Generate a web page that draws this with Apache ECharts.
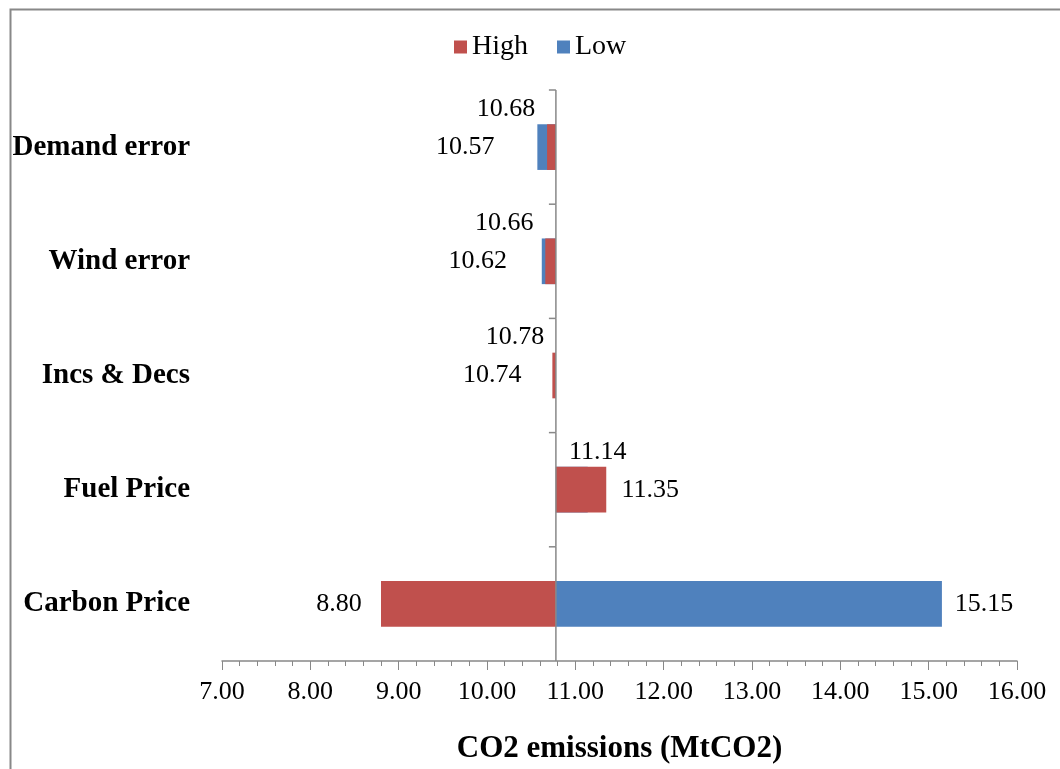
<!DOCTYPE html>
<html>
<head>
<meta charset="utf-8">
<script src="https://cdn.jsdelivr.net/npm/echarts@6/dist/echarts.min.js"></script>
<style>
html,body{margin:0;padding:0;background:#fff;overflow:hidden;}
#chart{width:1060px;height:769px;}
</style>
</head>
<body>
<div id="chart"></div>
<script>
// ---- data ----
const categories = ['Carbon Price', 'Fuel Price', 'Incs & Decs', 'Wind error', 'Demand error'];
const highValues = [8.80, 11.35, 10.74, 10.66, 10.68];
const lowValues  = [15.15, 11.14, 10.78, 10.62, 10.57];
const baseValue = 10.78;
const xTicks = { min: 7, max: 16, interval: 1 };

// ---- layout (not data) ----
const sideLabelOffset = [42, 44, 60, 64, 72];
const FONT = '"Liberation Serif","Times New Roman",serif';
const RED = '#C0504D', BLUE = '#4F81BD', AXIS = '#888888';

function barRender(values, color, otherValues) {
  return function (params, api) {
    const i = api.value(0);
    const v = values[i];
    const o = otherValues[i];
    const pBase = api.coord([baseValue, i]);
    const pEnd = api.coord([v, i]);
    const bandH = api.size([0, 1])[1];
    const h = bandH * 0.4;
    const x0 = Math.min(pBase[0], pEnd[0]);
    const w = Math.abs(pEnd[0] - pBase[0]);
    const children = [{
      type: 'rect',
      shape: { x: x0, y: pBase[1] - h / 2, width: w, height: h },
      style: { fill: color }
    }];
    const sameSide = (v - baseValue) * (o - baseValue) >= 0;
    const longer = Math.abs(v - baseValue) >= Math.abs(o - baseValue);
    const left = v < baseValue || (v === baseValue && o < baseValue);
    let tx, ty;
    if (!sameSide || longer) {
      tx = pEnd[0] + (left ? -1 : 1) * sideLabelOffset[i];
      ty = pBase[1];
    } else {
      const oLeft = o < baseValue;
      tx = pEnd[0] + (oLeft ? -41 : 10);
      ty = pBase[1] - 38;
    }
    children.push({
      type: 'text',
      style: {
        text: v.toFixed(2), x: tx, y: ty, align: 'center', verticalAlign: 'middle',
        fill: '#000', font: '26px ' + FONT
      }
    });
    return { type: 'group', children: children };
  };
}

const idx = categories.map((c, i) => [i]);

const chart = echarts.init(document.getElementById('chart'), null, { renderer: 'canvas' });
chart.setOption({
  backgroundColor: '#fff',
  animation: false,
  graphic: [{
    type: 'rect', left: 8, top: 7, z: 100,
    shape: { width: 1100, height: 820 },
    style: { fill: 'none', stroke: AXIS, lineWidth: 2 }
  }],
  legend: {
    top: 28, left: 449,
    itemWidth: 13, itemHeight: 13, itemGap: 29,
    icon: 'rect',
    textStyle: { fontFamily: FONT, fontSize: 28, color: '#000' },
    data: [{ name: 'High', itemStyle: { color: RED } }, { name: 'Low', itemStyle: { color: BLUE } }]
  },
  grid: { left: 222, width: 795, top: 90, height: 581 },
  xAxis: {
    type: 'value', min: xTicks.min, max: xTicks.max, interval: xTicks.interval,
    name: 'CO2 emissions (MtCO2)', nameLocation: 'middle', nameGap: 72,
    nameTextStyle: { fontFamily: FONT, fontSize: 31, fontWeight: 'bold', color: '#000' },
    axisLine: { show: true, lineStyle: { color: AXIS, width: 1.5 } },
    axisTick: { show: true, length: 9, lineStyle: { color: AXIS } },
    minorTick: { show: true, splitNumber: 5, length: 5, lineStyle: { color: AXIS } },
    splitLine: { show: false },
    axisLabel: { margin: 18, fontFamily: FONT, fontSize: 26, color: '#000',
      formatter: v => v.toFixed(2) }
  },
  yAxis: {
    type: 'category', data: categories,
    axisLine: { show: false }, axisTick: { show: false },
    axisLabel: { margin: 32, fontFamily: FONT, fontSize: 29, fontWeight: 'bold', color: '#000' }
  },
  series: [
    {
      name: 'Low', type: 'custom', data: idx, itemStyle: { color: BLUE },
      encode: { x: -1, y: 0 }, z: 2,
      renderItem: barRender(lowValues, BLUE, highValues)
    },
    {
      name: 'High', type: 'custom', data: idx, itemStyle: { color: RED },
      encode: { x: -1, y: 0 }, z: 3,
      renderItem: barRender(highValues, RED, lowValues)
    },
    {
      name: 'axis', type: 'custom', data: idx, silent: true, z: 4,
      encode: { x: -1, y: 0 },
      renderItem: function (params, api) {
        const i = api.value(0);
        const p = api.coord([baseValue, i]);
        const bandH = api.size([0, 1])[1];
        const top = p[1] - bandH / 2, bot = p[1] + bandH / 2;
        return { type: 'group', children: [
          { type: 'line', shape: { x1: p[0], y1: top, x2: p[0], y2: bot }, style: { stroke: AXIS, lineWidth: 1.5 } },
          { type: 'line', shape: { x1: p[0] - 7, y1: top, x2: p[0], y2: top }, style: { stroke: AXIS, lineWidth: 1.5 } }
        ]};
      }
    }
  ]
});
</script>
</body>
</html>
